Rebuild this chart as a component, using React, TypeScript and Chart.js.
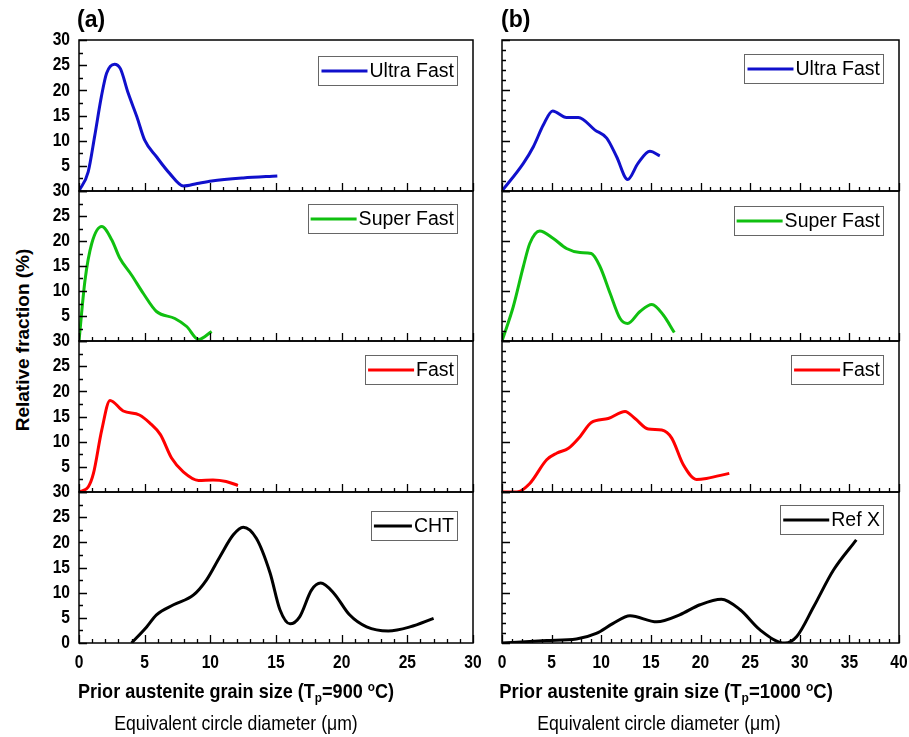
import React, { useEffect, useRef } from 'react';
import { Chart, registerables } from 'chart.js';

Chart.register(...registerables);

const SANS = "'Liberation Sans', Arial, sans-serif";
const NARROW_SCALE = 0.82;

// ---- data: (a) Tp = 900 C ----
const uf900X = [0, 0.7, 1.2, 1.7, 2.1, 2.7, 3.15, 3.75, 4.4, 5.0, 5.9, 6.9, 7.95, 9.0, 10.1, 12.5, 15.1];
const uf900Y = [0, 3.8, 11, 18.7, 23.4, 25.2, 24.3, 19.4, 14.8, 10.1, 6.8, 3.5, 1.0, 1.5, 2.0, 2.6, 3.0];

const sf900X = [0, 0.46, 0.97, 1.73, 2.5, 3.1, 4.0, 4.9, 5.9, 7.3, 8.2, 9.1, 10.1];
const sf900Y = [0, 12.2, 19.5, 22.9, 20.2, 16.6, 13.2, 9.5, 5.9, 4.5, 2.9, 0.3, 1.9];

const f900X = [0, 0.7, 1.1, 1.73, 2.36, 3.37, 4.6, 5.4, 6.2, 7.06, 7.94, 9.1, 10.2, 11.2, 12.1];
const f900Y = [0, 1.0, 3.7, 12.3, 18.2, 16.1, 15.3, 13.7, 11.4, 6.7, 4.0, 2.3, 2.4, 2.1, 1.3];

const chtX = [4.0, 5.15, 5.9, 7.2, 8.7, 9.7, 10.74, 11.75, 12.5, 13.5, 14.55, 15.3, 16.07, 16.8, 17.7, 18.4, 19.4, 20.6, 21.9, 23.55, 25.2, 27.0];
const chtY = [0, 3.2, 5.6, 7.6, 9.5, 12.5, 17.2, 21.5, 23.0, 20.8, 13.9, 6.6, 3.8, 5.2, 10.5, 11.9, 9.9, 5.6, 3.2, 2.4, 3.2, 4.9];

// ---- data: (b) Tp = 1000 C ----
const uf1000X = [0, 2.15, 3.16, 4.16, 5.1, 6.5, 7.7, 9.37, 10.55, 11.55, 12.66, 13.7, 14.9, 15.9];
const uf1000Y = [0, 5.5, 8.8, 13.1, 15.9, 14.6, 14.6, 12.1, 10.5, 6.8, 2.3, 5.5, 7.9, 7.0];

const sf1000X = [0, 1.14, 2.15, 2.8, 3.8, 5.17, 6.5, 7.86, 9.0, 9.87, 10.9, 11.9, 12.66, 13.9, 15.1, 16.25, 17.36];
const sf1000Y = [0, 6.9, 14.9, 19.5, 22.0, 20.5, 18.5, 17.7, 17.5, 14.9, 9.5, 4.5, 3.5, 5.9, 7.3, 5.2, 1.7];

const f1000X = [0, 1.5, 2.8, 4.5, 5.5, 6.7, 7.86, 9.0, 10.7, 12.4, 13.4, 14.74, 16.1, 17.1, 18.27, 19.6, 20.6, 22.9];
const f1000Y = [0, 0, 1.7, 6.4, 7.7, 8.7, 11.0, 13.8, 14.6, 16.0, 14.6, 12.5, 12.3, 10.7, 5.4, 2.5, 2.7, 3.7];

const refXX = [0, 4.5, 7.5, 9.5, 11.2, 12.9, 15.6, 17.9, 19.95, 22.1, 24.0, 26.0, 28.5, 29.7, 31.4, 33.4, 35.7];
const refXY = [0, 0.5, 0.8, 1.9, 3.9, 5.4, 4.2, 5.6, 7.6, 8.7, 6.6, 2.6, 0, 1.3, 7.2, 14.5, 20.5];

// ---- axes ----
const xMax900 = 30;
const xMax1000 = 40;
const yMax = 30;
const yLabelStep = 5;
const xLabelStep = 5;

const BLUE = '#1010cc';
const GREEN = '#10c010';
const RED = '#ff0000';
const BLACK = '#000000';

type PanelDef = {
  key: string;
  left: number; top: number; width: number; height: number;
  xMax: number; xs: number[]; ys: number[];
  label: string; color: string;
  showY: boolean; showX: boolean; hideZero: boolean;
  yMajor: number; yMinor: number;
  legendTop: number; lineLen: number;
};

const PAD_T = 12;
const LEFT_COL = { left: 79, width: 394, yW: 45, padR: 12 };
const RIGHT_COL = { left: 502, width: 397, yW: 10, padR: 10 };
const ROWS = [
  { top: 40, height: 151 },
  { top: 191, height: 150 },
  { top: 341, height: 151 },
  { top: 492, height: 151 },
];

const leftSeries = [
  { xs: uf900X, ys: uf900Y, label: 'Ultra Fast', color: BLUE, legendTop: 16, lineLen: 46 },
  { xs: sf900X, ys: sf900Y, label: 'Super Fast', color: GREEN, legendTop: 13, lineLen: 46 },
  { xs: f900X, ys: f900Y, label: 'Fast', color: RED, legendTop: 14, lineLen: 46 },
  { xs: chtX, ys: chtY, label: 'CHT', color: BLACK, legendTop: 19, lineLen: 38 },
];
const rightSeries = [
  { xs: uf1000X, ys: uf1000Y, label: 'Ultra Fast', color: BLUE, legendTop: 14, lineLen: 46 },
  { xs: sf1000X, ys: sf1000Y, label: 'Super Fast', color: GREEN, legendTop: 15, lineLen: 46 },
  { xs: f1000X, ys: f1000Y, label: 'Fast', color: RED, legendTop: 14, lineLen: 46 },
  { xs: refXX, ys: refXY, label: 'Ref X', color: BLACK, legendTop: 13, lineLen: 46 },
];

function Panel({ def, col }: { def: PanelDef; col: typeof LEFT_COL }) {
  const ref = useRef<HTMLCanvasElement>(null);
  const xH = def.showX ? 34 : 12;
  const cw = col.yW + def.width + col.padR;
  const ch = PAD_T + def.height + xH;
  useEffect(() => {
    const frame = {
      id: 'frame',
      afterDraw(chart: any) {
        const { ctx, chartArea: a } = chart;
        const sx = chart.scales.x;
        const sy = chart.scales.y;
        ctx.save();
        ctx.strokeStyle = '#000';
        ctx.lineWidth = 1.5;
        ctx.strokeRect(a.left, a.top, a.right - a.left, a.bottom - a.top);
        ctx.lineWidth = 1.3;
        ctx.beginPath();
        for (let v = 0; v <= def.xMax + 1e-9; v += 1) {
          const px = Math.round(sx.getPixelForValue(v)) + 0.5;
          const len = v % xLabelStep === 0 ? 8 : 4;
          ctx.moveTo(px, a.bottom);
          ctx.lineTo(px, a.bottom - len);
        }
        for (let v = 0; v <= yMax + 1e-9; v += def.yMinor) {
          const py = Math.round(sy.getPixelForValue(v)) + 0.5;
          const r = v / def.yMajor;
          const major = Math.abs(r - Math.round(r)) < 1e-6;
          const len = major ? 8 : 4;
          ctx.moveTo(a.left, py);
          ctx.lineTo(a.left + len, py);
        }
        ctx.stroke();

        // tick labels (condensed bold, from the scales' own ticks)
        ctx.fillStyle = '#000';
        ctx.font = `bold 19px ${SANS}`;
        ctx.textBaseline = 'middle';
        if (def.showY) {
          ctx.textAlign = 'right';
          for (const t of sy.ticks) {
            if (def.hideZero && t.value === 0) continue;
            const py = sy.getPixelForValue(t.value);
            ctx.save();
            ctx.translate(a.left - 9, py + 0);
            ctx.scale(NARROW_SCALE, 1);
            ctx.fillText(String(t.value), 0, 0);
            ctx.restore();
          }
        }
        if (def.showX) {
          ctx.textAlign = 'center';
          for (const t of sx.ticks) {
            const px = sx.getPixelForValue(t.value);
            ctx.save();
            ctx.translate(px, a.bottom + 20);
            ctx.scale(NARROW_SCALE, 1);
            ctx.fillText(String(t.value), 0, 0);
            ctx.restore();
          }
        }

        // legend box
        const ds = chart.data.datasets[0];
        ctx.textAlign = 'left';
        ctx.font = `19.5px ${SANS}`;
        const tw = ctx.measureText(ds.label).width;
        const right = a.right - 16;
        const top = a.top + def.legendTop;
        const h = 29;
        const lineLen = def.lineLen;
        const left = right - 3 - tw - 2 - lineLen - 3;
        ctx.strokeStyle = '#666';
        ctx.lineWidth = 1;
        ctx.strokeRect(Math.round(left) + 0.5, Math.round(top) + 0.5, Math.round(right - left), h);
        ctx.strokeStyle = ds.borderColor;
        ctx.lineWidth = 3;
        ctx.beginPath();
        ctx.moveTo(left + 3, top + h / 2 + 0.5);
        ctx.lineTo(left + 3 + lineLen, top + h / 2 + 0.5);
        ctx.stroke();
        ctx.fillStyle = '#000';
        ctx.fillText(ds.label, right - 3 - tw, top + h / 2 + 1.5);
        ctx.restore();
      },
    };
    const chart = new Chart(ref.current as HTMLCanvasElement, {
      type: 'line',
      data: {
        datasets: [
          {
            label: def.label,
            data: def.xs.map((x, i) => ({ x, y: def.ys[i] })),
            borderColor: def.color,
            borderWidth: 3,
            pointRadius: 0,
            cubicInterpolationMode: 'monotone',
            fill: false,
          },
        ],
      },
      options: {
        animation: false,
        responsive: true,
        maintainAspectRatio: false,
        events: [],
        layout: { padding: { top: PAD_T, right: col.padR, left: 0, bottom: 0 } },
        plugins: { legend: { display: false }, tooltip: { enabled: false } },
        scales: {
          x: {
            type: 'linear',
            min: 0,
            max: def.xMax,
            ticks: { display: false, stepSize: xLabelStep, autoSkip: false },
            grid: { display: false, drawTicks: false },
            border: { display: false },
            afterFit: (s: any) => { s.height = xH; s.paddingLeft = 0; s.paddingRight = 0; },
          },
          y: {
            type: 'linear',
            min: 0,
            max: yMax,
            ticks: { display: false, stepSize: yLabelStep, autoSkip: false },
            grid: { display: false, drawTicks: false },
            border: { display: false },
            afterFit: (s: any) => { s.width = col.yW; s.paddingTop = 0; s.paddingBottom = 0; },
          },
        },
      } as any,
      plugins: [frame],
    });
    return () => chart.destroy();
  }, []);
  return (
    <div
      style={{
        position: 'absolute',
        left: def.left - col.yW,
        top: def.top - PAD_T,
        width: cw,
        height: ch,
      }}
    >
      <canvas ref={ref} />
    </div>
  );
}

const panels: { def: PanelDef; col: typeof LEFT_COL }[] = [];
ROWS.forEach((r, i) => {
  const s = leftSeries[i];
  panels.push({
    col: LEFT_COL,
    def: {
      key: 'L' + i, left: LEFT_COL.left, top: r.top, width: LEFT_COL.width, height: r.height,
      xMax: xMax900, xs: s.xs, ys: s.ys, label: s.label, color: s.color,
      showY: true, showX: i === 3, hideZero: i !== 3, yMajor: 5, yMinor: 2.5,
      legendTop: s.legendTop, lineLen: s.lineLen,
    },
  });
});
ROWS.forEach((r, i) => {
  const s = rightSeries[i];
  panels.push({
    col: RIGHT_COL,
    def: {
      key: 'R' + i, left: RIGHT_COL.left, top: r.top, width: RIGHT_COL.width, height: r.height,
      xMax: xMax1000, xs: s.xs, ys: s.ys, label: s.label, color: s.color,
      showY: false, showX: i === 3, hideZero: true, yMajor: 10, yMinor: 2,
      legendTop: s.legendTop, lineLen: s.lineLen,
    },
  });
});

const abs = (extra: React.CSSProperties): React.CSSProperties => ({ position: 'absolute', whiteSpace: 'nowrap', lineHeight: 1, color: '#000', ...extra });
const subStyle: React.CSSProperties = { fontSize: '65%', verticalAlign: '-0.25em' };
const supStyle: React.CSSProperties = { fontSize: '65%', verticalAlign: '0.55em' };

export default function App() {
  return (
    <div style={{ position: 'absolute', left: 0, top: 0, width: 909, height: 737, overflow: 'hidden', background: '#fff' }}>
      {panels.map((p) => (
        <Panel key={p.def.key} def={p.def} col={p.col} />
      ))}
      <div style={abs({ left: 77, top: 8, fontFamily: SANS, fontWeight: 'bold', fontSize: 23 })}>(a)</div>
      <div style={abs({ left: 501, top: 8, fontFamily: SANS, fontWeight: 'bold', fontSize: 23 })}>(b)</div>
      <div
        style={abs({
          left: 22, top: 340, fontFamily: SANS, fontWeight: 'bold', fontSize: 19,
          transform: 'translate(-50%, -50%) rotate(-90deg)',
        })}
      >
        Relative fraction (%)
      </div>
      <div style={abs({ left: 236, top: 692, transform: 'translate(-50%, -50%) scaleX(0.86)', fontFamily: SANS, fontWeight: 'bold', fontSize: 21 })}>
        Prior austenite grain size (T<sub style={subStyle}>p</sub>=900 <sup style={supStyle}>o</sup>C)
      </div>
      <div style={abs({ left: 236, top: 722, transform: 'translate(-50%, -50%) scaleX(0.84)', fontFamily: SANS, fontSize: 21 })}>
        Equivalent circle diameter (μm)
      </div>
      <div style={abs({ left: 666, top: 692, transform: 'translate(-50%, -50%) scaleX(0.88)', fontFamily: SANS, fontWeight: 'bold', fontSize: 21 })}>
        Prior austenite grain size (T<sub style={subStyle}>p</sub>=1000 <sup style={supStyle}>o</sup>C)
      </div>
      <div style={abs({ left: 659, top: 722, transform: 'translate(-50%, -50%) scaleX(0.84)', fontFamily: SANS, fontSize: 21 })}>
        Equivalent circle diameter (μm)
      </div>
    </div>
  );
}
